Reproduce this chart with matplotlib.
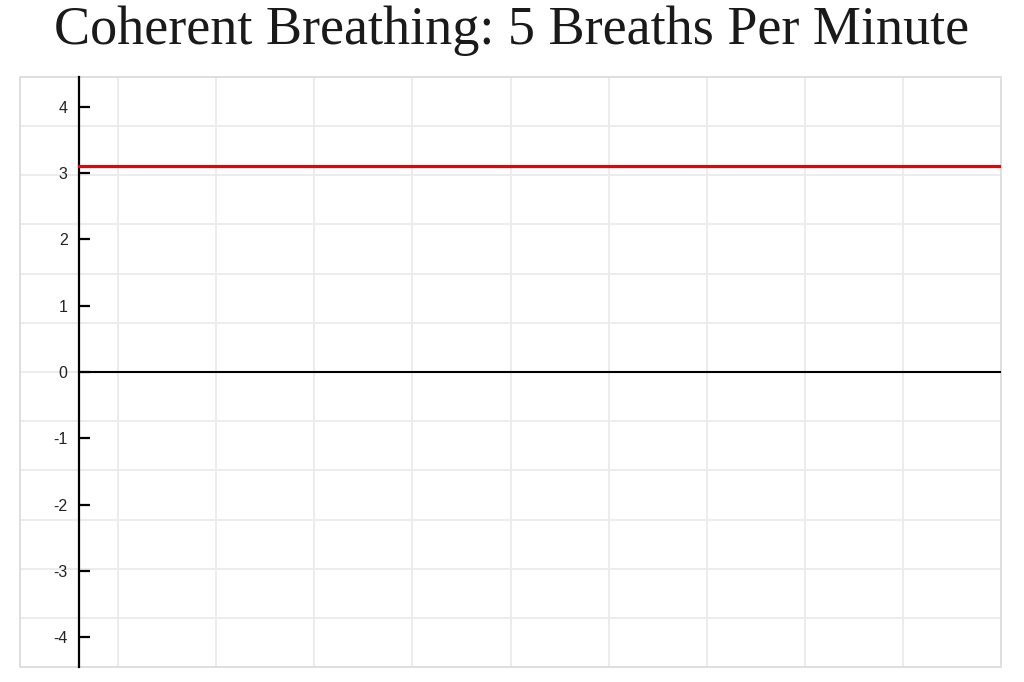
import numpy as np
import matplotlib.pyplot as plt
from matplotlib.patches import Rectangle

# chart values
title = "Coherent Breathing: 5 Breaths Per Minute"
y_ticks = [-4, -3, -2, -1, 0, 1, 2, 3, 4]
y_limits = (-4.45, 4.45)
x_limits = (0, 10)
axis_x = 0.6          # where the y axis crosses (in x data units)
breath_level = 3.1    # red line value
grid_cols = 10
grid_rows = 12


def draw_chart():
    fig = plt.figure(figsize=(10.24, 6.82), dpi=100)
    ax = fig.add_axes([20 / 1024, 15 / 682, 981 / 1024, 590 / 682])
    ax.set_xlim(*x_limits)
    ax.set_ylim(*y_limits)

    # background grid: even split of the box, independent of the y ticks
    for i in range(1, grid_cols):
        x = x_limits[0] + i * (x_limits[1] - x_limits[0]) / grid_cols
        ax.axvline(x, color="#ebebeb", lw=1.3, zorder=0)
    for j in range(1, grid_rows):
        y = y_limits[0] + j * (y_limits[1] - y_limits[0]) / grid_rows
        ax.axhline(y, color="#ebebeb", lw=1.3, zorder=0)

    # outer box
    ax.add_patch(Rectangle((0, 0), 1, 1, transform=ax.transAxes, fill=False,
                           edgecolor="#d9d9d9", lw=1.2, clip_on=False, zorder=1))

    for side in ["top", "right", "bottom"]:
        ax.spines[side].set_visible(False)
    ax.spines["left"].set_position(("data", axis_x))
    ax.spines["left"].set_linewidth(1.6)
    ax.spines["left"].set_zorder(3)

    ax.set_xticks([])
    ax.set_yticks(y_ticks)
    ax.set_yticklabels([str(t) for t in y_ticks], fontfamily="Liberation Sans",
                       fontsize=11.5, color="#222222")
    ax.tick_params(axis="y", direction="in", length=8, width=1.6, pad=8)

    frac = (axis_x - x_limits[0]) / (x_limits[1] - x_limits[0])
    ax.axhline(0, xmin=frac, xmax=1, color="black", lw=1.5, zorder=2)
    ax.axhline(breath_level, xmin=frac, xmax=1, color="#ee0000", lw=2.3, zorder=4)

    fig.text(0.5, (682 - 44) / 682, title, ha="center", va="baseline",
             fontfamily="Liberation Serif", fontsize=39, color="#1a1a1a")

    fig.savefig("out.png", dpi=100)
    plt.close(fig)


draw_chart()
